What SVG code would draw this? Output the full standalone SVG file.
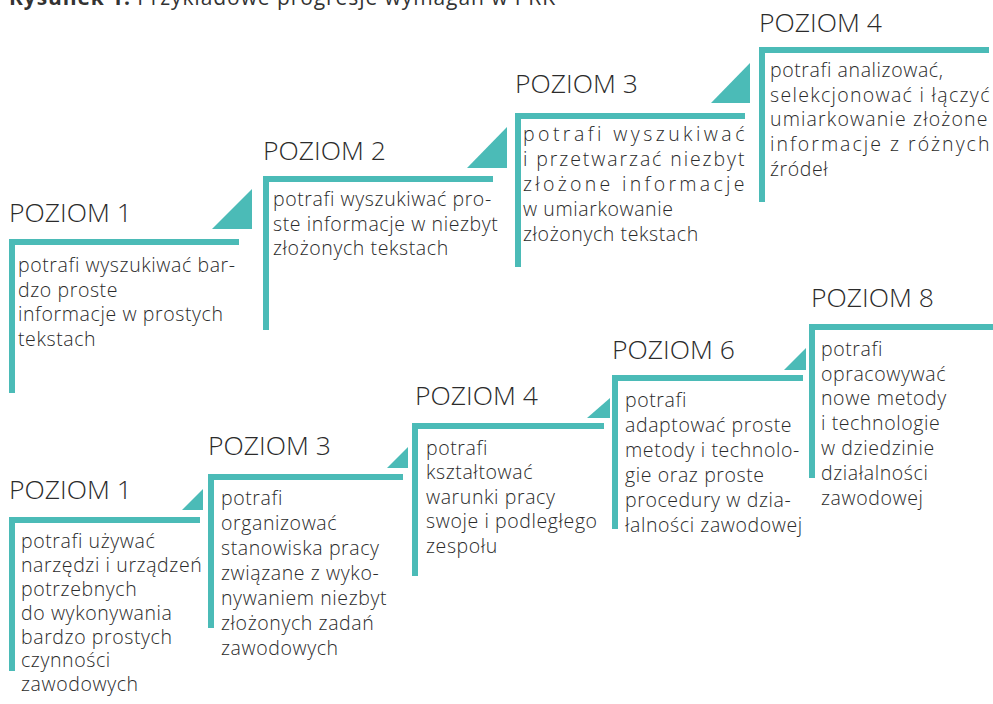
<svg xmlns="http://www.w3.org/2000/svg" width="993" height="704" viewBox="0 0 993 704">
  <style>
    .bar { fill: #4bbbb7; }
    .tri { fill: #4bbbb7; }
    .head { font-family: "Open Sans", "Liberation Sans", sans-serif; font-weight: 300; font-size: 26.5px; fill: #2b2b2b; }
    .body { font-family: "Open Sans", "Liberation Sans", sans-serif; font-weight: 300; font-size: 19.5px; letter-spacing: 0.6px; fill: #2b2b2b; }
    .cap { font-family: "Open Sans", "Liberation Sans", sans-serif; font-size: 21px; fill: #333333; }
  </style>
  <rect width="993" height="704" fill="#ffffff"/>

  <!-- caption, partly above the top edge -->
  <text class="cap" x="9" y="5" textLength="546" lengthAdjust="spacing"><tspan font-weight="700">Rysunek 1.</tspan><tspan font-weight="400"> Przykładowe progresje wymagań w PRK</tspan></text>

  <!-- step connectors (triangles between levels) -->
  <g id="connectors">
    <polygon class="tri" points="212,229 252,189 252,229"/>
    <polygon class="tri" points="467,168 507,127 507,168"/>
    <polygon class="tri" points="711,103 750,63 750,103"/>
    <polygon class="tri" points="182,510 203,489 203,510"/>
    <polygon class="tri" points="387,468 408,447 408,468"/>
    <polygon class="tri" points="587,418 610,398 610,418"/>
    <polygon class="tri" points="784,370 806,348 806,370"/>
  </g>

  <!-- upper progression -->
  <g id="a-poziom1">
    <rect class="bar" x="9" y="239" width="230" height="6"/>
    <rect class="bar" x="9" y="239" width="6" height="154"/>
    <text class="head" x="9" y="222">POZIOM 1</text>
    <text class="body">
      <tspan x="18" y="272">potrafi wyszukiwać bar-</tspan>
      <tspan x="18" y="296.5">dzo proste</tspan>
      <tspan x="18" y="321">informacje w prostych</tspan>
      <tspan x="18" y="345.5">tekstach</tspan>
    </text>
  </g>

  <g id="a-poziom2">
    <rect class="bar" x="263" y="176" width="230" height="6"/>
    <rect class="bar" x="263" y="176" width="6" height="154"/>
    <text class="head" x="263" y="160">POZIOM 2</text>
    <text class="body">
      <tspan x="273" y="206">potrafi wyszukiwać pro-</tspan>
      <tspan x="273" y="230.5">ste informacje w niezbyt</tspan>
      <tspan x="273" y="255">złożonych tekstach</tspan>
    </text>
  </g>

  <g id="a-poziom3">
    <rect class="bar" x="515" y="113" width="230" height="6"/>
    <rect class="bar" x="515" y="113" width="6" height="154"/>
    <text class="head" x="515" y="93">POZIOM 3</text>
    <text class="body" x="523" y="141" textLength="222" lengthAdjust="spacing">potrafi wyszukiwać</text>
    <text class="body" x="523" y="166" textLength="222" lengthAdjust="spacing">i przetwarzać niezbyt</text>
    <text class="body" x="523" y="191" textLength="222" lengthAdjust="spacing">złożone informacje</text>
    <text class="body">
      <tspan x="523" y="216">w umiarkowanie</tspan>
      <tspan x="523" y="241">złożonych tekstach</tspan>
    </text>
  </g>

  <g id="a-poziom4">
    <rect class="bar" x="759" y="47" width="230" height="6"/>
    <rect class="bar" x="759" y="47" width="6" height="155"/>
    <text class="head" x="759" y="32">POZIOM 4</text>
    <text class="body" x="770" y="77">potrafi analizować,</text>
    <text class="body" x="770" y="101.7" textLength="220" lengthAdjust="spacing">selekcjonować i łączyć</text>
    <text class="body" x="770" y="126.3" textLength="218" lengthAdjust="spacing">umiarkowanie złożone</text>
    <text class="body" x="770" y="151" textLength="220" lengthAdjust="spacing">informacje z różnych</text>
    <text class="body" x="770" y="175.6">źródeł</text>
  </g>

  <!-- lower progression -->
  <g id="b-poziom1">
    <rect class="bar" x="9" y="517" width="191" height="6"/>
    <rect class="bar" x="9" y="517" width="6" height="154"/>
    <text class="head" x="9" y="499">POZIOM 1</text>
    <text class="body">
      <tspan x="21" y="548">potrafi używać</tspan>
      <tspan x="21" y="572">narzędzi i urządzeń</tspan>
      <tspan x="21" y="596">potrzebnych</tspan>
      <tspan x="21" y="620">do wykonywania</tspan>
      <tspan x="21" y="643.5">bardzo prostych</tspan>
      <tspan x="21" y="667">czynności</tspan>
      <tspan x="21" y="691">zawodowych</tspan>
    </text>
  </g>

  <g id="b-poziom3">
    <rect class="bar" x="208" y="474" width="195" height="6"/>
    <rect class="bar" x="208" y="474" width="6" height="154"/>
    <text class="head" x="208" y="455">POZIOM 3</text>
    <text class="body">
      <tspan x="221" y="505">potrafi</tspan>
      <tspan x="221" y="530">organizować</tspan>
      <tspan x="221" y="555">stanowiska pracy</tspan>
      <tspan x="221" y="580">związane z wyko-</tspan>
      <tspan x="221" y="605">nywaniem niezbyt</tspan>
      <tspan x="221" y="630">złożonych zadań</tspan>
      <tspan x="221" y="655">zawodowych</tspan>
    </text>
  </g>

  <g id="b-poziom4">
    <rect class="bar" x="412" y="423" width="192" height="6"/>
    <rect class="bar" x="412" y="423" width="6" height="153"/>
    <text class="head" x="415" y="405">POZIOM 4</text>
    <text class="body">
      <tspan x="426" y="455">potrafi</tspan>
      <tspan x="426" y="479">kształtować</tspan>
      <tspan x="426" y="503.5">warunki pracy</tspan>
      <tspan x="426" y="528">swoje i podległego</tspan>
      <tspan x="426" y="553">zespołu</tspan>
    </text>
  </g>

  <g id="b-poziom6">
    <rect class="bar" x="612" y="375" width="191" height="6"/>
    <rect class="bar" x="612" y="375" width="6" height="154"/>
    <text class="head" x="612" y="359">POZIOM 6</text>
    <text class="body">
      <tspan x="625" y="407">potrafi</tspan>
      <tspan x="625" y="432">adaptować proste</tspan>
      <tspan x="625" y="457">metody i technolo-</tspan>
      <tspan x="625" y="482">gie oraz proste</tspan>
      <tspan x="625" y="507">procedury w dzia-</tspan>
      <tspan x="625" y="532">łalności zawodowej</tspan>
    </text>
  </g>

  <g id="b-poziom8">
    <rect class="bar" x="809" y="324" width="184" height="6"/>
    <rect class="bar" x="809" y="324" width="6" height="154"/>
    <text class="head" x="811" y="307">POZIOM 8</text>
    <text class="body">
      <tspan x="821" y="356">potrafi</tspan>
      <tspan x="821" y="380.5">opracowywać</tspan>
      <tspan x="821" y="405">nowe metody</tspan>
      <tspan x="821" y="430">i technologie</tspan>
      <tspan x="821" y="455">w dziedzinie</tspan>
      <tspan x="821" y="480">działalności</tspan>
      <tspan x="821" y="505">zawodowej</tspan>
    </text>
  </g>
</svg>
